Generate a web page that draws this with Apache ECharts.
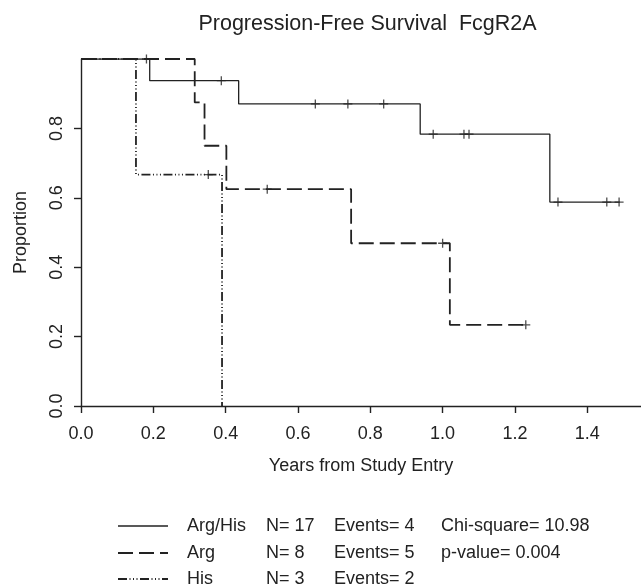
<!DOCTYPE html>
<html><head><meta charset="utf-8">
<script src="https://cdn.jsdelivr.net/npm/echarts@6/dist/echarts.min.js"></script>
<style>html,body{margin:0;padding:0;background:#fff}#c{width:641px;height:587px}</style>
</head><body><div id="c"></div>
<script>
// ---- data ----
const xTicks = [0, 0.2, 0.4, 0.6, 0.8, 1.0, 1.2, 1.4];
const yTicks = [0, 0.2, 0.4, 0.6, 0.8];
// Kaplan-Meier step points [years, proportion]
const argHisSteps = [[0, 1], [0.19, 0.9375], [0.436, 0.8705], [0.938, 0.7835], [1.2965, 0.5876], [1.49, 0.5876]];
const argHisCensor = [[0.181, 1], [0.388, 0.9375], [0.648, 0.8705], [0.738, 0.8705], [0.837, 0.8705], [0.974, 0.7835], [1.059, 0.7835], [1.073, 0.7835], [1.319, 0.5876], [1.454, 0.5876], [1.488, 0.5876]];
const argSteps = [[0, 1], [0.3145, 0.875], [0.3416, 0.75], [0.402, 0.625], [0.747, 0.469], [1.02, 0.234], [1.23, 0.234]];
const argCensor = [[0.515, 0.625], [1.0, 0.469], [1.23, 0.234]];
const hisSteps = [[0, 1], [0.152, 0.667], [0.39, 0]];
const hisCensor = [[0.352, 0.667]];
const groups = ['Arg/His', 'Arg', 'His'];
const nVals = [17, 8, 3];
const eventVals = [4, 5, 2];
const statTexts = ['Chi-square= 10.98', 'p-value= 0.004', ''];
const titleText = 'Progression-Free Survival  FcgR2A';
const xName = 'Years from Study Entry';
const yName = 'Proportion';

// ---- styles ----
const FONT = "'Liberation Sans', Arial, sans-serif";
const INK = '#222';
const dashes = ['solid', [15, 6], [9, 2.5, 1, 2.5, 1, 2.5, 1, 2.5]];
const widths = [1.3, 1.8, 1.8];
const plus = 'path://M1,0L1,2M0,1L2,1';

const stepSets = [argHisSteps, argSteps, hisSteps];
const censorSets = [argHisCensor, argCensor, hisCensor];

const series = [];
stepSets.forEach((d, i) => {
  series.push({
    type: 'line', name: groups[i], data: d, step: 'end', symbol: 'none',
    lineStyle: { color: INK, width: widths[i], type: dashes[i] },
    animation: false, z: 3
  });
});
censorSets.forEach((d, i) => {
  series.push({
    type: 'scatter', name: groups[i] + ' censored', data: d, symbol: plus, symbolSize: 9,
    itemStyle: { color: 'rgba(0,0,0,0)', borderColor: INK, borderWidth: 1.3 },
    animation: false, z: 4
  });
});

const graphics = [
  { type: 'text', x: 367.5, y: 24, style: { text: titleText, font: '21.5px ' + FONT, fill: INK, align: 'center', verticalAlign: 'middle' } }
];
const rowY = [526, 553, 579];
const colX = [187, 266, 334, 441];
groups.forEach((g, i) => {
  graphics.push({
    type: 'line', shape: { x1: 118, y1: rowY[i], x2: 168, y2: rowY[i] },
    style: { stroke: INK, lineWidth: widths[i], lineDash: dashes[i] === 'solid' ? null : dashes[i] }
  });
  const cells = [g, 'N= ' + nVals[i], 'Events= ' + eventVals[i], statTexts[i]];
  cells.forEach((t, j) => {
    if (!t) return;
    graphics.push({
      type: 'text', x: colX[j], y: rowY[i],
      style: { text: t, font: '18px ' + FONT, fill: INK, verticalAlign: 'middle', align: 'left' }
    });
  });
});

const chart = echarts.init(document.getElementById('c'), null, { renderer: 'canvas' });
chart.setOption({
  backgroundColor: '#fff',
  animation: false,
  grid: { left: 81, right: -13, top: 59, height: 347, containLabel: false },
  xAxis: {
    type: 'value', min: 0, max: 1.5486, interval: 0.2,
    name: xName, nameLocation: 'middle', nameGap: 51,
    nameTextStyle: { fontSize: 18, color: INK, fontFamily: FONT },
    axisLine: { show: true, lineStyle: { color: INK, width: 1.4 } },
    axisTick: { show: true, length: 7, lineStyle: { color: INK, width: 1.4 }, customValues: xTicks },
    axisLabel: { fontSize: 18, color: INK, fontFamily: FONT, margin: 19, customValues: xTicks, formatter: v => v.toFixed(1) },
    splitLine: { show: false }
  },
  yAxis: {
    type: 'value', min: 0, max: 1, interval: 0.2,
    name: yName, nameLocation: 'middle', nameGap: 51, nameRotate: 90,
    nameTextStyle: { fontSize: 18, color: INK, fontFamily: FONT },
    axisLine: { show: true, lineStyle: { color: INK, width: 1.4 } },
    axisTick: { show: true, length: 7, lineStyle: { color: INK, width: 1.4 }, customValues: yTicks },
    axisLabel: { fontSize: 18, color: INK, fontFamily: FONT, margin: 15, rotate: 90, customValues: yTicks, formatter: v => v.toFixed(1) },
    splitLine: { show: false }
  },
  graphic: graphics,
  series: series
});
</script></body></html>
